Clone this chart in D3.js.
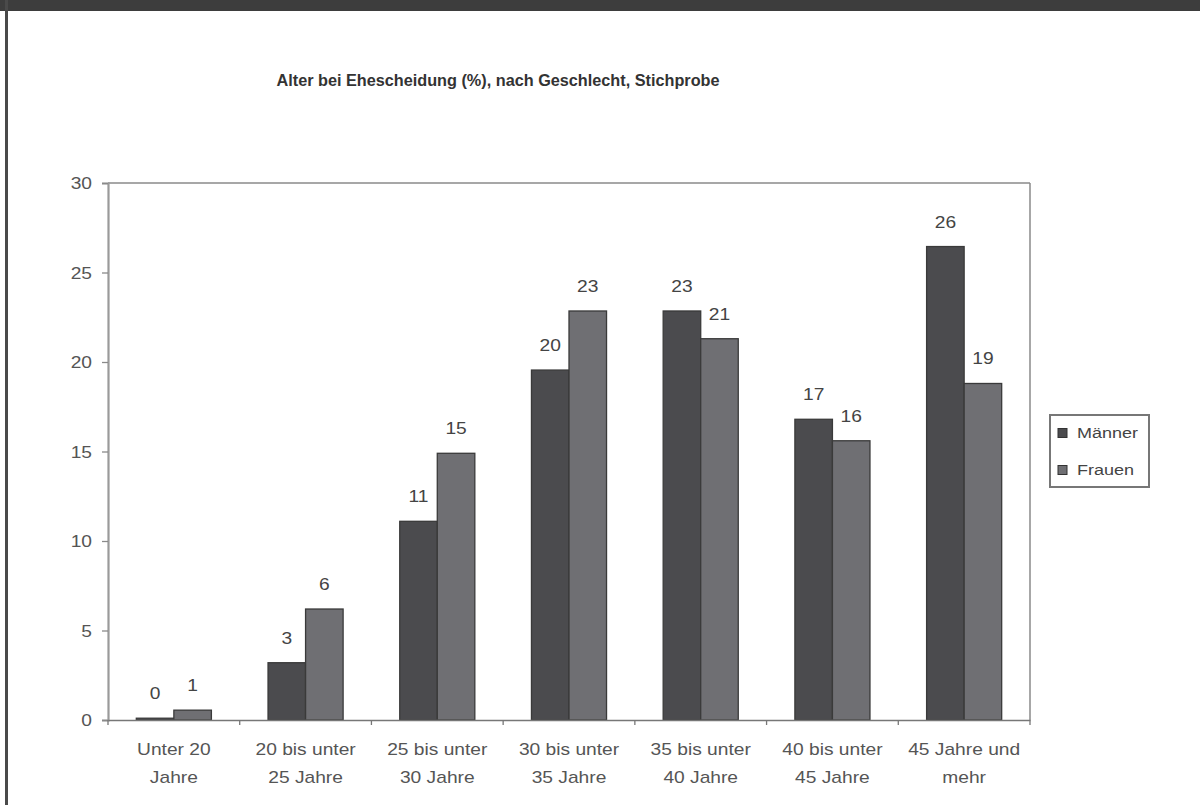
<!DOCTYPE html>
<html>
<head>
<meta charset="utf-8">
<script src="https://cdn.jsdelivr.net/npm/d3@7"></script>
<style>
  html, body { margin: 0; padding: 0; background: #fff; }
  svg { display: block; }
  text { font-family: "Liberation Sans", Arial, sans-serif; }
</style>
</head>
<body>
<svg id="chart" width="1200" height="805"></svg>
<script>
// ---- data ----
const title = "Alter bei Ehescheidung (%), nach Geschlecht, Stichprobe";
const categories = [
  ["Unter 20", "Jahre"],
  ["20 bis unter", "25 Jahre"],
  ["25 bis unter", "30 Jahre"],
  ["30 bis unter", "35 Jahre"],
  ["35 bis unter", "40 Jahre"],
  ["40 bis unter", "45 Jahre"],
  ["45 Jahre und", "mehr"]
];
const seriesNames = ["Männer", "Frauen"];
const maenner = [0.1, 3.2, 11.1, 19.55, 22.85, 16.8, 26.45];
const frauen  = [0.55, 6.2, 14.9, 22.85, 21.3, 15.6, 18.8];
const yTicks = [0, 5, 10, 15, 20, 25, 30];
const colors = ["#4b4b4e", "#6f6f73"];

// ---- layout ----
const W = 1200, H = 805;
const plot = { left: 108, right: 1030, top: 183, bottom: 720 };
const SX = 1.2; // horizontal stretch of the scanned text

const svg = d3.select("#chart");
svg.append("rect").attr("width", W).attr("height", H).attr("fill", "#fff");

// frame of the picture
svg.append("rect").attr("x", 0).attr("y", 0).attr("width", W).attr("height", 11).attr("fill", "#3d3d3d");
svg.append("rect").attr("x", 5).attr("y", 0).attr("width", 3).attr("height", H).attr("fill", "#4a4a4a");

const catKeys = categories.map(c => c.join(" "));
const x = d3.scaleBand().domain(catKeys).range([plot.left, plot.right]).paddingInner(0).paddingOuter(0);
const bw = x.bandwidth();
const xs = d3.scaleBand().domain(seriesNames).range([bw * 0.215, bw * 0.785]).padding(0);
const y = d3.scaleLinear().domain([0, 30]).range([plot.bottom, plot.top]);

function stretched(sel, px, py) {
  return sel.attr("transform", `translate(${px},${py}) scale(${SX},1)`);
}

// title
svg.append("text")
  .attr("x", 498).attr("y", 86)
  .attr("text-anchor", "middle")
  .attr("font-size", 16).attr("font-weight", "bold")
  .attr("fill", "#333")
  .attr("textLength", 443).attr("lengthAdjust", "spacingAndGlyphs")
  .text(title);

// plot frame (top + right)
svg.append("line").attr("x1", plot.left).attr("x2", plot.right).attr("y1", plot.top).attr("y2", plot.top)
  .attr("stroke", "#8a8a8a").attr("stroke-width", 1.5);
svg.append("line").attr("x1", plot.right).attr("x2", plot.right).attr("y1", plot.top).attr("y2", plot.bottom)
  .attr("stroke", "#8a8a8a").attr("stroke-width", 1.5);

// y axis
const yAxis = d3.axisLeft(y).tickValues(yTicks).tickSize(6).tickPadding(10).tickFormat(d3.format("d"));
const gy = svg.append("g").attr("transform", `translate(${plot.left},0)`).call(yAxis);
gy.select(".domain").attr("stroke", "#9a9a9a").attr("stroke-width", 2.2);
gy.selectAll(".tick line").attr("stroke", "#8a8a8a").attr("stroke-width", 1.3);
gy.selectAll(".tick text").remove();
gy.selectAll(".tick").append("text")
  .attr("text-anchor", "end").attr("dy", "0.35em")
  .attr("font-size", 16).attr("fill", "#555")
  .attr("transform", `translate(-16,0) scale(${SX},1)`)
  .text(d => d);

// bars
const seriesData = [maenner, frauen];
const groups = svg.append("g");
seriesNames.forEach((name, si) => {
  const vals = seriesData[si];
  groups.selectAll(null).data(vals).enter().append("rect")
    .attr("x", (d, i) => x(catKeys[i]) + xs(name))
    .attr("y", d => y(d))
    .attr("width", xs.bandwidth())
    .attr("height", d => y(0) - y(d))
    .attr("fill", colors[si])
    .attr("stroke", "#3a3a3a").attr("stroke-width", 1.3);
  // value labels
  groups.selectAll(null).data(vals).enter().append("text")
    .attr("text-anchor", "middle")
    .attr("font-size", 16).attr("fill", "#444")
    .each(function (d, i) {
      stretched(d3.select(this), x(catKeys[i]) + xs(name) + xs.bandwidth() / 2, y(d) - 19);
    })
    .text(d => d3.format(".0f")(d));
});

// x axis
const clip = svg.append("defs").append("clipPath").attr("id", "clipBottom");
clip.append("rect").attr("x", 0).attr("y", 0).attr("width", W).attr("height", 784);

const xAxis = d3.axisBottom(x).tickSize(0).tickFormat("");
const gx = svg.append("g").attr("transform", `translate(0,${plot.bottom})`).call(xAxis);
gx.select(".domain").attr("stroke", "#777").attr("stroke-width", 1.5);
gx.selectAll(".tick").remove();
const bounds = catKeys.map(k => x(k)).concat([plot.right]);
gx.selectAll(".bt").data(bounds).enter().append("line")
  .attr("x1", d => d).attr("x2", d => d).attr("y1", 0).attr("y2", 5)
  .attr("stroke", "#777").attr("stroke-width", 1.3);

const labels = svg.append("g").attr("clip-path", "url(#clipBottom)");
categories.forEach((lines, i) => {
  const cx = x(catKeys[i]) + bw / 2;
  lines.forEach((ln, li) => {
    labels.append("text")
      .attr("text-anchor", "middle")
      .attr("font-size", 16).attr("fill", "#555")
      .attr("transform", `translate(${cx},${755 + li * 28}) scale(${SX},1)`)
      .text(ln);
  });
});

// legend
const lg = svg.append("g");
lg.append("rect").attr("x", 1050).attr("y", 415).attr("width", 99).attr("height", 72)
  .attr("fill", "#fff").attr("stroke", "#777").attr("stroke-width", 2);
seriesNames.forEach((name, si) => {
  const cy = 433 + si * 37;
  lg.append("rect").attr("x", 1058).attr("y", cy - 4.5).attr("width", 9).attr("height", 9)
    .attr("fill", colors[si]).attr("stroke", "#333").attr("stroke-width", 1);
  lg.append("text").attr("dy", "0.35em")
    .attr("font-size", 15).attr("fill", "#444")
    .attr("transform", `translate(1077,${cy}) scale(${SX},1)`)
    .text(name);
});
</script>
</body>
</html>
